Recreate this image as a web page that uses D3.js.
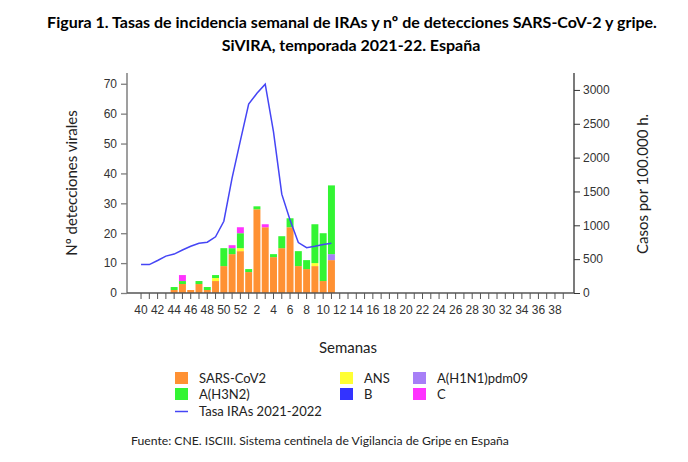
<!DOCTYPE html>
<html>
<head>
<meta charset="utf-8">
<script src="https://cdn.jsdelivr.net/npm/d3@7"></script>
<style>
  body { margin: 0; background: #fff; }
  svg { font-family: Lato, "Noto Sans", sans-serif; }
</style>
</head>
<body>
<svg id="chart" width="688" height="462"></svg>
<script>
// weeks of the season 2021-22 (40..52, 1..39)
var weeks = [40,41,42,43,44,45,46,47,48,49,50,51,52,1,2,3,4,5,6,7,8,9,10,11,12,13,14,15,16,17,18,19,20,21,22,23,24,25,26,27,28,29,30,31,32,33,34,35,36,37,38,39];

// detections, weeks 40 .. 11 (later weeks have no data yet)
var sarsCov2 = [0,0,0,0,1,3,1,3,1,4,9,13,14,7,28,22,12,15,22,9,8,9,4,11];
var ans      = [0,0,0,0,0,0,0,0,0,1,0,0,1,0,0,0,0,0,0,0,0,1,0,0];
var h1n1     = [0,0,0,0,0,0,0,0,0,0,0,0,0,0,0,0,0,0,0,0,0,0,0,2];
var h3n2     = [0,0,0,0,1,1,0,1,1,1,6,2,5,1,1,0,1,4,3,5,3,13,16,23];
var fluB     = [0,0,0,0,0,0,0,0,0,0,0,0,0,0,0,0,0,0,0,0,0,0,0,0];
var fluC     = [0,0,0,0,0,2,0,0,0,0,0,1,2,0,0,1,0,0,0,0,0,0,0,0];

// IRAs rate per 100.000, weeks 40 .. 11
var tasaIRAs = [420,420,480,545,575,635,690,735,750,830,1060,1700,2250,2790,2950,3085,2380,1460,1080,745,670,690,715,735];

var leftTicks = [0,10,20,30,40,50,60,70];
var rightTicks = [0,500,1000,1500,2000,2500,3000];

var series = [
  {key: "sars", name: "SARS-CoV2", values: sarsCov2, color: "#ff9133"},
  {key: "ans", name: "ANS", values: ans, color: "#ffff33"},
  {key: "h1n1", name: "A(H1N1)pdm09", values: h1n1, color: "#a77ff7"},
  {key: "h3n2", name: "A(H3N2)", values: h3n2, color: "#33f533"},
  {key: "b", name: "B", values: fluB, color: "#3333ff"},
  {key: "c", name: "C", values: fluC, color: "#ff33ff"}
];

// table for the stack
var table = sarsCov2.map(function(d, i) {
  var row = {week: weeks[i]};
  series.forEach(function(s) { row[s.key] = s.values[i]; });
  return row;
});

var svg = d3.select("#chart");

// layout
var margin_l = 127, margin_r = 574, plot_top = 73, plot_bottom = 293;

var xScale = d3.scaleBand()
  .domain(weeks)
  .range([136.9, 567.4])
  .paddingInner(0.16)
  .paddingOuter(0.08);

var yLeft = d3.scaleLinear().domain([0, 73.6]).range([plot_bottom, plot_top]);
var yRight = d3.scaleLinear().domain([0, 3250]).range([plot_bottom, plot_top]);

// stacked bars
var stack = d3.stack().keys(series.map(function(s) { return s.key; }));
var stacked = stack(table);

svg.append("g").selectAll("g")
  .data(stacked)
  .enter().append("g")
  .attr("fill", function(d, i) { return series[i].color; })
  .selectAll("rect")
  .data(function(d) { return d.filter(function(p) { return p[1] - p[0] > 0; }); })
  .enter().append("rect")
  .attr("x", function(d) { return xScale(d.data.week); })
  .attr("width", xScale.bandwidth())
  .attr("y", function(d) { return yLeft(d[1]); })
  .attr("height", function(d) { return yLeft(d[0]) - yLeft(d[1]); });

// rate line
var line = d3.line()
  .x(function(d, i) { return xScale(weeks[i]) + xScale.bandwidth() / 2; })
  .y(function(d) { return yRight(d); });

svg.append("path")
  .datum(tasaIRAs)
  .attr("fill", "none")
  .attr("stroke", "#4545f5")
  .attr("stroke-width", 1.5)
  .attr("d", line);

// left axis
var gl = svg.append("g")
  .attr("transform", "translate(" + margin_l + ",0)")
  .call(d3.axisLeft(yLeft).tickValues(leftTicks).tickSize(6).tickPadding(4));
gl.select(".domain").remove();
gl.append("line").attr("y1", plot_top).attr("y2", plot_bottom).attr("stroke", "#7f7f7f").attr("stroke-width", 1.5);
gl.selectAll(".tick line").attr("stroke", "#7f7f7f").attr("stroke-width", 1.3);
gl.selectAll(".tick text").style("font-size", "12px").attr("fill", "#333");

// right axis
var gr = svg.append("g")
  .attr("transform", "translate(" + margin_r + ",0)")
  .call(d3.axisRight(yRight).tickValues(rightTicks).tickFormat(d3.format("d")).tickSize(6).tickPadding(3));
gr.select(".domain").remove();
gr.append("line").attr("y1", plot_top).attr("y2", plot_bottom).attr("stroke", "#333").attr("stroke-width", 1.3);
gr.selectAll(".tick line").attr("stroke", "#333");
gr.selectAll(".tick text").style("font-size", "12px").attr("fill", "#333");

// bottom axis
var gx = svg.append("g")
  .attr("transform", "translate(0," + plot_bottom + ")")
  .call(d3.axisBottom(xScale)
    .tickSize(6)
    .tickPadding(6)
    .tickFormat(function(d, i) { return i % 2 === 0 ? d : ""; }));
gx.select(".domain").remove();
gx.append("line").attr("x1", margin_l).attr("x2", margin_r).attr("stroke", "#555").attr("stroke-width", 1.3);
gx.selectAll(".tick line").attr("stroke", "#555");
gx.selectAll(".tick text").style("font-size", "12px").attr("fill", "#333");

// axis titles
svg.append("text")
  .attr("transform", "translate(77,183) rotate(-90)")
  .style("text-anchor", "middle")
  .style("font-size", "15px")
  .attr("fill", "#222")
  .text("Nº detecciones virales");

svg.append("text")
  .attr("transform", "translate(648,184) rotate(-90)")
  .style("text-anchor", "middle")
  .style("font-size", "15px")
  .attr("fill", "#222")
  .text("Casos por 100.000 h.");

svg.append("text")
  .attr("x", 348).attr("y", 353)
  .style("text-anchor", "middle")
  .style("font-size", "15px")
  .attr("fill", "#222")
  .text("Semanas");

// title
svg.append("text")
  .attr("x", 352).attr("y", 28)
  .style("text-anchor", "middle")
  .style("font-size", "16px")
  .style("font-weight", "bold")
  .text("Figura 1. Tasas de incidencia semanal de IRAs y nº de detecciones SARS-CoV-2 y gripe.");

svg.append("text")
  .attr("x", 351).attr("y", 51)
  .style("text-anchor", "middle")
  .style("font-size", "16px")
  .style("font-weight", "bold")
  .text("SiVIRA, temporada 2021-22. España");

// legend
var legendItems = [
  {name: "SARS-CoV2", color: "#ff9133", col: 0, row: 0},
  {name: "A(H3N2)", color: "#33f533", col: 0, row: 1},
  {name: "ANS", color: "#ffff33", col: 1, row: 0},
  {name: "B", color: "#3333ff", col: 1, row: 1},
  {name: "A(H1N1)pdm09", color: "#a77ff7", col: 2, row: 0},
  {name: "C", color: "#ff33ff", col: 2, row: 1}
];
var colX = [175, 340, 413];

var lg = svg.append("g");
lg.selectAll("rect")
  .data(legendItems)
  .enter().append("rect")
  .attr("x", function(d) { return colX[d.col]; })
  .attr("y", function(d) { return 372 + d.row * 16; })
  .attr("width", 13).attr("height", 12)
  .attr("fill", function(d) { return d.color; });
lg.selectAll("text")
  .data(legendItems)
  .enter().append("text")
  .attr("x", function(d) { return colX[d.col] + 24; })
  .attr("y", function(d) { return 382.5 + d.row * 16; })
  .style("font-size", "13px")
  .attr("fill", "#222")
  .text(function(d) { return d.name; });

lg.append("line")
  .attr("x1", 175).attr("x2", 188)
  .attr("y1", 411.5).attr("y2", 411.5)
  .attr("stroke", "#4545f5").attr("stroke-width", 1.5);
lg.append("text")
  .attr("x", 199).attr("y", 415.5)
  .style("font-size", "13px")
  .attr("fill", "#222")
  .text("Tasa IRAs 2021-2022");

// source
svg.append("text")
  .attr("x", 131).attr("y", 445)
  .style("font-size", "12.2px")
  .attr("fill", "#222")
  .text("Fuente: CNE. ISCIII. Sistema centinela de Vigilancia de Gripe en España");
</script>
</body>
</html>
